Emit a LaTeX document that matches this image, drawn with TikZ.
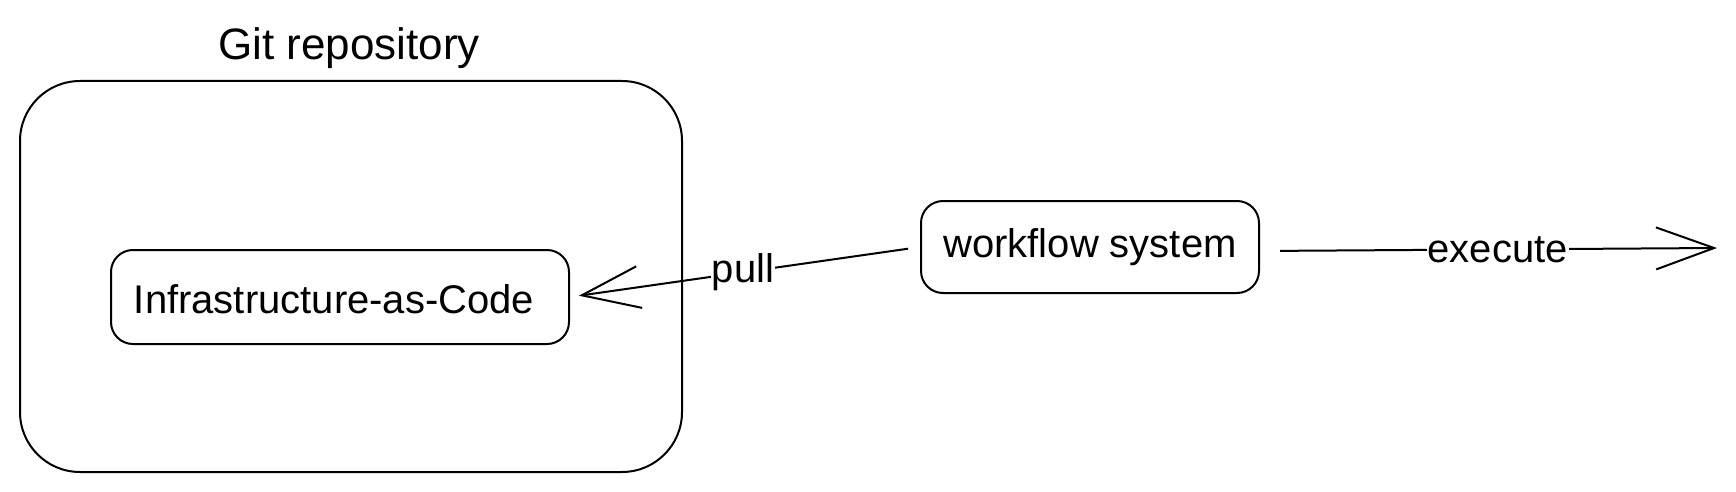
\documentclass[tikz,border=0pt]{standalone}
\usepackage{fontspec}
\setmainfont{Liberation Sans}
\usetikzlibrary{arrows.meta}
\begin{document}
\begin{tikzpicture}[x=1pt,y=-1pt,
  box/.style={draw=black, line width=2pt, fill=white, inner sep=0pt},
  txt/.style={font=\fontsize{40}{48}\selectfont},
  lbl/.style={font=\fontsize{40}{48}\selectfont, fill=white, inner sep=1pt},
  conn/.style={line width=2pt, -{Straight Barb[length=58pt,width=42pt]}}]
\useasboundingbox[fill=white] (0,0) rectangle (1736,492);
\node[box, rounded corners=60pt, minimum width=662pt, minimum height=391pt] (repo) at (351,276.5) {};
\node[font=\fontsize{44}{52}\selectfont] (title) at (349,48) {Git repository};
\node[box, rounded corners=22pt, minimum width=458pt, minimum height=94pt] (iac) at (340,297) {};
\node[txt] (iactext) at (334,299) {Infrastructure-as-Code};
\node[box, rounded corners=22pt, minimum width=338pt, minimum height=92pt, txt] (wf) at (1090,247) {workflow system};
\coordinate (ex) at (1717,248);
\draw[conn, shorten <=12pt, shorten >=9pt] (wf.west) -- node[lbl, pos=0.506] (pull) {pull} (iac.east);
\draw[conn, shorten <=20pt] ([yshift=-4pt]wf.east) -- node[lbl, pos=0.52] (execute) {execute} (ex);
\end{tikzpicture}
\end{document}
